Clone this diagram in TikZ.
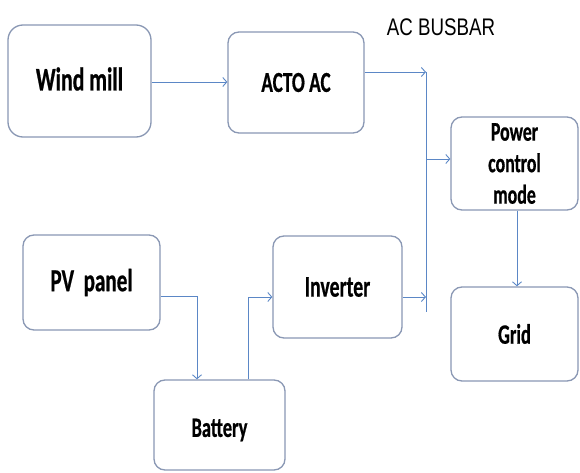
\documentclass[tikz,border=0pt]{standalone}
\usepackage{fontspec}
\usetikzlibrary{arrows.meta}
\newfontfamily\bxfont[FakeStretch=0.66,FakeBold=0.6]{Carlito}
\newfontfamily\busfont[FakeStretch=0.78]{Liberation Sans}
\definecolor{boxline}{HTML}{8A98B4}
\definecolor{conn}{HTML}{5B87C6}
\tikzset{
  blk/.style={draw=boxline, line width=1.3pt, rounded corners=11pt, fill=white, inner sep=0pt, align=center, font=\bxfont\bfseries},
  wire/.style={draw=conn, line width=0.9pt},
  arr/.style={wire, -{Straight Barb[length=4pt,width=9pt]}}
}
\begin{document}
\begin{tikzpicture}[x=1pt,y=-1pt]
\useasboundingbox (0,0) rectangle (580,473);
\fill[white] (0,0) rectangle (580,473);
% boxes
\node[blk, rounded corners=15pt, minimum width=143pt, minimum height=112pt, font=\bxfont\bfseries\fontsize{33}{38}\selectfont] (wind) at (79.5,81) {\raisebox{2pt}[\height][\depth]{Wind mill}};
\node[blk, minimum width=136pt, minimum height=101pt, font=\bxfont\bfseries\fontsize{29}{34}\selectfont] (acac) at (296,82.5) {ACTO AC};
\node[blk, minimum width=127pt, minimum height=93pt, font=\bxfont\bfseries\fontsize{27}{31.5}\selectfont] (pcm) at (514.5,163.5) {Power\\control\\mode};
\node[blk, minimum width=127pt, minimum height=94pt, font=\bxfont\bfseries\fontsize{28}{32}\selectfont] (grid) at (514.5,334) {Grid};
\node[blk, minimum width=129pt, minimum height=102pt, font=\bxfont\bfseries\fontsize{30}{34}\selectfont] (inv) at (337.5,287) {Inverter};
\node[blk, minimum width=137pt, minimum height=95pt, font=\bxfont\bfseries\fontsize{32}{36}\selectfont] (pv) at (91.5,282.5) {PV\ \ panel};
\node[blk, minimum width=131pt, minimum height=90pt, font=\bxfont\bfseries\fontsize{28}{32}\selectfont] (bat) at (219.5,425) {\raisebox{-5pt}[\height][\depth]{Battery}};
% label
\node[font=\busfont\fontsize{24}{28}\selectfont, inner sep=0pt] (buslbl) at (441,27) {AC BUSBAR};
% busbar
\coordinate (bustop) at (426,72);
\coordinate (busbot) at (426,312);
\draw[wire] (bustop) -- (busbot);
% connectors
\draw[arr] (wind.east |- 0,82) -- (acac.west |- 0,82);
\draw[arr] (acac.east |- bustop) -- (bustop);
\draw[arr] (bustop |- 0,159) -- (pcm.west |- 0,159);
\draw[arr] (inv.east |- 0,297) -- (bustop |- 0,297);
\draw[arr] (pcm.south -| 517,0) -- (grid.north -| 517,0);
\draw[arr] (pv.east |- 0,296) -| (bat.north -| 197,0);
\draw[arr] (bat.north -| 248,0) |- (inv.west |- 0,297);
\end{tikzpicture}
\end{document}
